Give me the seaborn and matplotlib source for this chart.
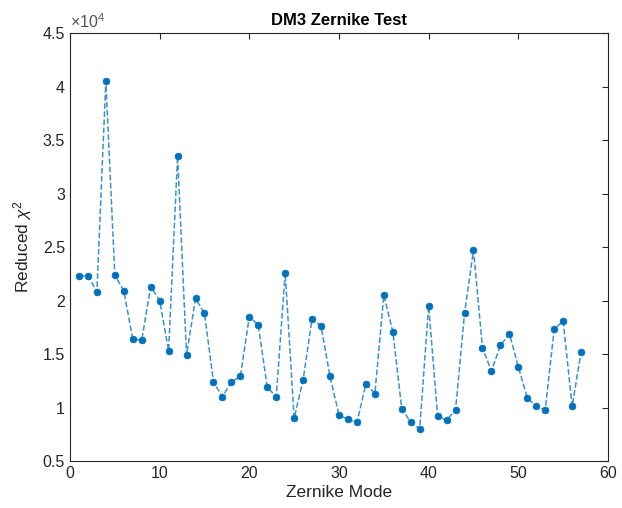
import numpy as np
import pandas as pd
import matplotlib
matplotlib.use("Agg")
import matplotlib.pyplot as plt
from matplotlib.ticker import FuncFormatter, MultipleLocator
import seaborn as sns

# Reduced chi-square per Zernike mode, in units of 1e4
modes = list(range(1, 58))
chi2_e4 = [2.23, 2.23, 2.08, 4.05, 2.24, 2.09, 1.64, 1.63, 2.13, 2.00,
           1.53, 3.35, 1.49, 2.02, 1.88, 1.24, 1.10, 1.24, 1.29, 1.85,
           1.77, 1.19, 1.10, 2.26, 0.90, 1.26, 1.83, 1.76, 1.29, 0.93,
           0.89, 0.86, 1.22, 1.13, 2.05, 1.71, 0.99, 0.86, 0.80, 1.95,
           0.92, 0.88, 0.98, 1.88, 2.47, 1.56, 1.34, 1.58, 1.69, 1.38,
           1.09, 1.01, 0.98, 1.73, 1.81, 1.01, 1.52]
chi2 = [v * 1e4 for v in chi2_e4]

df = pd.DataFrame({"Zernike Mode": modes, "chi2": chi2})

sns.set_style("white")
plt.rcParams["font.family"] = ["Liberation Sans", "DejaVu Sans"]
plt.rcParams["mathtext.fontset"] = "custom"
plt.rcParams["mathtext.rm"] = "Liberation Sans"
plt.rcParams["mathtext.it"] = "Liberation Sans:italic"

axcol = "#262626"
fig = plt.figure(figsize=(6.22, 5.08), dpi=100)
ax = fig.add_axes([0.1125, 0.0925, 0.8650, 0.8425])

blue = "#0072BD"
# dashed connecting line (slightly lighter) plus solid markers
sns.lineplot(data=df, x="Zernike Mode", y="chi2", ax=ax, color="#3A92D0",
             linewidth=1.1, dashes=(5.5, 3.5), linestyle="--")
sns.scatterplot(data=df, x="Zernike Mode", y="chi2", ax=ax, color=blue,
                s=24, edgecolor=blue, linewidth=0.5, zorder=3)

ax.set_xlim(0, 60)
ax.set_ylim(0.5e4, 4.5e4)
ax.xaxis.set_major_locator(MultipleLocator(10))
ax.yaxis.set_major_locator(MultipleLocator(0.5e4))
ax.yaxis.set_major_formatter(FuncFormatter(lambda v, p: f"{v / 1e4:g}"))

for s in ax.spines.values():
    s.set_color(axcol)
    s.set_linewidth(0.8)
ax.tick_params(direction="in", length=4, width=0.8, colors=axcol,
               labelsize=11.5, top=True, right=True, labelcolor=axcol)

ax.set_xlabel("Zernike Mode", fontsize=12.5, color=axcol, labelpad=3)
ax.set_ylabel(r"Reduced $\chi^2$", fontsize=12.5, color=axcol, labelpad=6)
ax.set_title("DM3 Zernike Test", fontsize=12, fontweight="bold",
             color="black", pad=6)
ax.text(0.0, 1.005, r"$\times10^4$", transform=ax.transAxes, fontsize=11.5,
        color="#555555", ha="left", va="bottom")

fig.savefig("out.png", dpi=100, facecolor="white")
